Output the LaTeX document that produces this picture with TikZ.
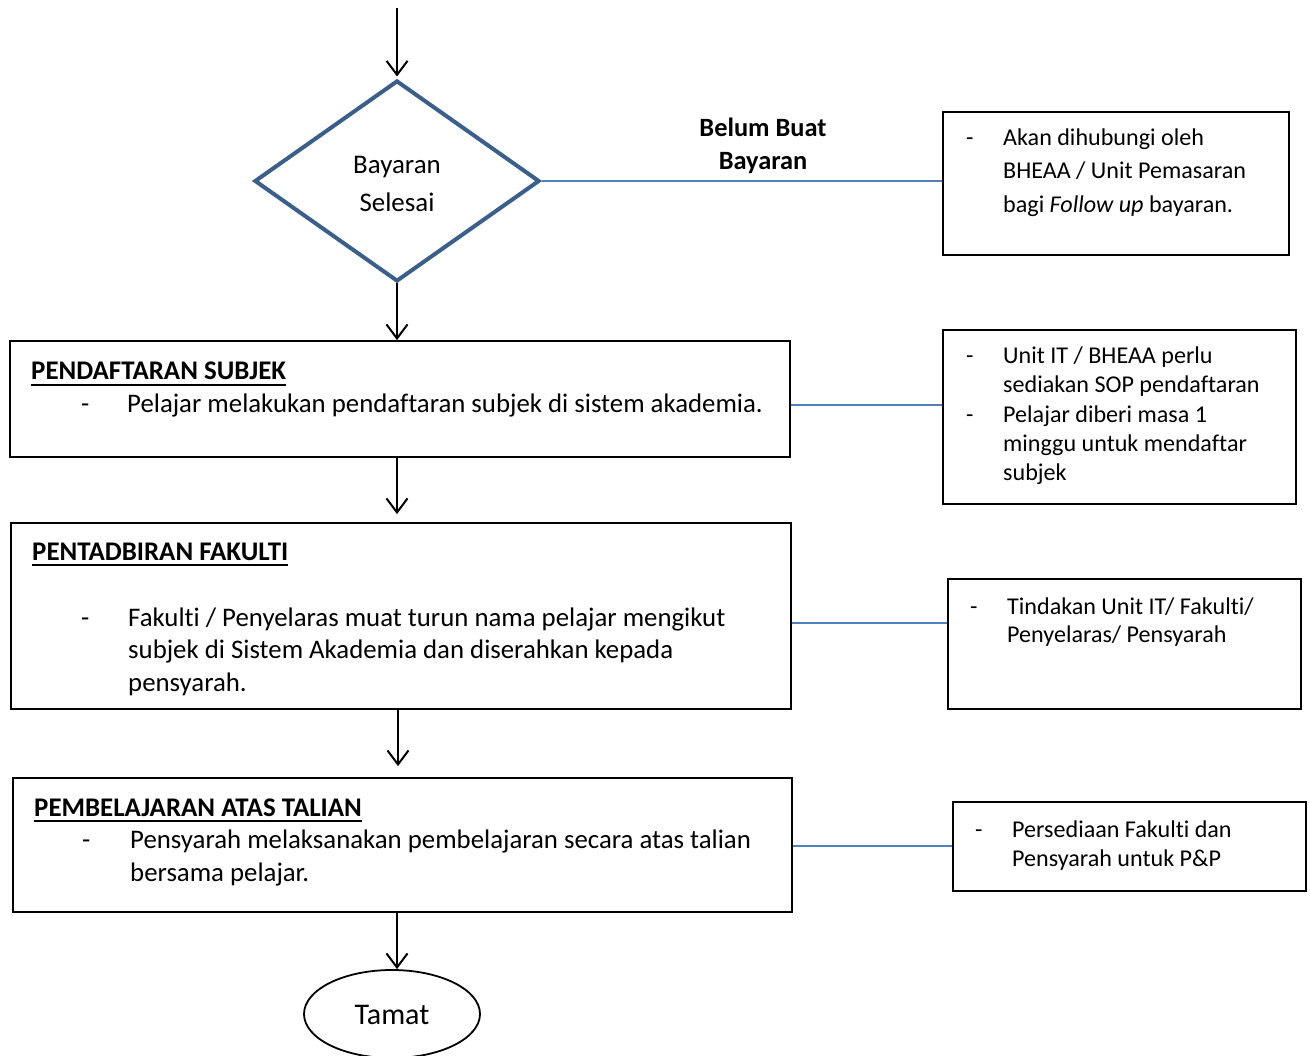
\documentclass[tikz,border=0pt]{standalone}
\usepackage{fontspec}
\setmainfont{Carlito}[Ligatures={NoCommon,NoContextual},Contextuals={NoAlternate}]
\usetikzlibrary{arrows.meta,shapes.geometric}
\newcommand\myul[1]{\setbox0\hbox{#1}\rlap{\rule[-6pt]{\wd0}{2.2pt}}\box0}
\begin{document}
\begin{tikzpicture}[x=1pt,y=-1pt,
  box/.style={draw=black, line width=1.8pt, rectangle, inner sep=0pt},
  arr/.style={-{Straight Barb[length=14pt,width=21pt,line width=2pt]}, line width=2pt},
  link/.style={draw=linkblue, line width=2pt},
  mtext/.style={anchor=base west, inner sep=0pt, font=\fontsize{26.8}{31}\selectfont},
  ttext/.style={anchor=base west, inner sep=0pt, font=\fontsize{26.9}{31}\selectfont\bfseries},
  rtext/.style={anchor=base west, inner sep=0pt, font=\fontsize{24.1}{29}\selectfont},
  ctext/.style={anchor=base, inner sep=0pt, font=\fontsize{26.9}{31}\selectfont}]
\definecolor{linkblue}{HTML}{4F81BD}
\definecolor{diablue}{HTML}{3A5F8C}
\useasboundingbox (0,0) rectangle (1310,1056);
\fill[white] (0,0) rectangle (1310,1056);

% shapes
\node[diamond, draw=diablue, line width=4pt, fill=white, inner sep=0pt,
      minimum width=285pt, minimum height=201pt] (D) at (397,181) {};
\node[box, minimum width=780pt, minimum height=116pt] (A) at (400,399) {};
\node[box, minimum width=780pt, minimum height=186pt] (B) at (401,616) {};
\node[box, minimum width=779pt, minimum height=134pt] (C) at (402.5,845) {};
\node[box, minimum width=346pt, minimum height=143pt] (R1) at (1116,183.5) {};
\node[box, minimum width=353pt, minimum height=174pt] (R2) at (1119.5,417) {};
\node[box, minimum width=353pt, minimum height=130pt] (R3) at (1124.5,644) {};
\node[box, minimum width=353pt, minimum height=89pt] (R4) at (1129.5,846.5) {};
\node[ellipse, draw=black, line width=1.8pt, inner sep=0pt,
      minimum width=176pt, minimum height=88pt] (E) at (392,1014) {};

% connectors
\coordinate (start) at (397,8);
\draw[arr] (start) -- ([yshift=2pt]D.north);
\draw[arr] (D.south) -- (D.south |- A.north);
\draw[arr, shorten >=8pt] (D.south |- A.south) -- (D.south |- B.north);
\draw[arr, shorten >=11pt] ([xshift=1pt]D.south |- B.south) -- ([xshift=1pt]D.south |- C.north);
\draw[arr] (D.south |- C.south) -- (D.south |- E.north);

\draw[link] (D.east) -- (D.east -| R1.west);
\draw[link] (A.east |- 0,405) -- (R2.west |- 0,405);
\draw[link] (B.east |- 0,623) -- (R3.west |- 0,623);
\draw[link] (C.east |- 0,846) -- (R4.west |- 0,846);

% diamond text
\node[ctext] (d1) at (397,174) {Bayaran};
\node[ctext] (d2) at (397,212) {Selesai};
\node[anchor=base, inner sep=0pt, font=\fontsize{26.4}{29}\selectfont\bfseries] (l1) at (763,137) {Belum Buat};
\node[anchor=base, inner sep=0pt, font=\fontsize{26.4}{29}\selectfont\bfseries] (l2) at (763,170) {Bayaran};

% R1
\node[rtext] (r1d) at (966,146) {-};
\node[rtext] (r1a) at (1003,146) {Akan dihubungi oleh};
\node[rtext] (r1b) at (1003,179) {BHEAA / Unit Pemasaran};
\node[rtext] (r1c) at (1003,213) {bagi \textit{Follow up} bayaran.};

% A
\node[ttext] (at) at (31,380) {\myul{PENDAFTARAN SUBJEK}};
\node[mtext] (ad) at (81,413) {-};
\node[mtext] (a1) at (127,413) {Pelajar melakukan pendaftaran subjek di sistem akademia.};

% R2
\node[rtext] (r2d1) at (966,364) {-};
\node[rtext] (r2a) at (1003,364) {Unit IT / BHEAA perlu};
\node[rtext] (r2b) at (1003,393) {sediakan SOP pendaftaran};
\node[rtext] (r2d2) at (966,423) {-};
\node[rtext] (r2c) at (1003,423) {Pelajar diberi masa 1};
\node[rtext] (r2e) at (1003,452) {minggu untuk mendaftar};
\node[rtext] (r2f) at (1003,481) {subjek};

% B
\node[ttext] (bt) at (32,560) {\myul{PENTADBIRAN FAKULTI}};
\node[mtext] (bd) at (81,626) {-};
\node[mtext] (b1) at (128,626) {Fakulti / Penyelaras muat turun nama pelajar mengikut};
\node[mtext] (b2) at (128,658) {subjek di Sistem Akademia dan diserahkan kepada};
\node[mtext] (b3) at (128,691) {pensyarah.};

% R3
\node[rtext] (r3d) at (970,614) {-};
\node[rtext] (r3a) at (1007,614) {Tindakan Unit IT/ Fakulti/};
\node[rtext] (r3b) at (1007,642) {Penyelaras/ Pensyarah};

% C
\node[ttext] (ct) at (34,816) {\myul{PEMBELAJARAN ATAS TALIAN}};
\node[mtext] (cd) at (82,848) {-};
\node[mtext] (c1) at (130,848) {Pensyarah melaksanakan pembelajaran secara atas talian};
\node[mtext] (c2) at (130,881) {bersama pelajar.};

% R4
\node[rtext] (r4d) at (975,837) {-};
\node[rtext] (r4a) at (1012,837) {Persediaan Fakulti dan};
\node[rtext] (r4b) at (1012,866) {Pensyarah untuk P\&P};

% end
\node[anchor=base, inner sep=0pt, font=\fontsize{30}{34}\selectfont] (et) at (392,1024) {Tamat};
\end{tikzpicture}
\end{document}
